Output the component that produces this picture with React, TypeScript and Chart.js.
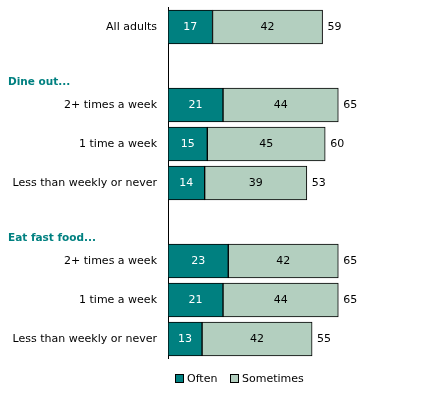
import React, { useEffect, useRef } from "react";
import { Chart, registerables } from "chart.js";

Chart.register(...registerables);

const categories = [
  "All adults",
  "",
  "2+ times a week",
  "1 time a week",
  "Less than weekly or never",
  "",
  "2+ times a week",
  "1 time a week",
  "Less than weekly or never",
];
const groupHeaders = ["", "Dine out...", "", "", "", "Eat fast food...", "", "", ""];
const often = [17, null, 21, 15, 14, null, 23, 21, 13];
const sometimes = [42, null, 44, 45, 39, null, 42, 44, 42];
const totals = [59, null, 65, 60, 53, null, 65, 65, 55];
const seriesNames = ["Often", "Sometimes"];

const TEAL = "#008080";
const SAGE = "#B3CFBF";
const FONT = "'DejaVu Sans', Verdana, sans-serif";

const labelsPlugin = {
  id: "valueLabels",
  afterDatasetsDraw(chart: any) {
    const ctx = chart.ctx;
    ctx.save();
    ctx.font = `11px ${FONT}`;
    ctx.textBaseline = "middle";
    chart.data.datasets.forEach((ds: any, di: number) => {
      const meta = chart.getDatasetMeta(di);
      meta.data.forEach((el: any, i: number) => {
        const v = ds.data[i];
        if (v == null) return;
        ctx.fillStyle = di === 0 ? "#ffffff" : "#000000";
        ctx.textAlign = "center";
        ctx.fillText(String(v), (el.x + el.base) / 2, el.y + 0.5);
        if (di === chart.data.datasets.length - 1 && totals[i] != null) {
          ctx.fillStyle = "#000000";
          ctx.textAlign = "left";
          ctx.fillText(String(totals[i]), el.x + 5, el.y + 0.5);
        }
      });
    });
    ctx.restore();
  },
};

const headersPlugin = {
  id: "groupHeaders",
  afterDraw(chart: any) {
    const ctx = chart.ctx;
    const y = chart.scales.y;
    ctx.save();
    ctx.font = `bold 10.5px ${FONT}`;
    ctx.fillStyle = TEAL;
    ctx.textAlign = "left";
    ctx.textBaseline = "middle";
    groupHeaders.forEach((h, i) => {
      if (!h) return;
      const py = y.getPixelForValue(i) + (y.height / categories.length) * 0.41;
      ctx.fillText(h, 8, py);
    });
    ctx.restore();
  },
};

const legendPlugin = {
  id: "customLegend",
  afterDraw(chart: any) {
    const ctx = chart.ctx;
    const area = chart.chartArea;
    ctx.save();
    ctx.font = `11px ${FONT}`;
    ctx.textBaseline = "middle";
    ctx.textAlign = "left";
    let x = Math.round(area.left + 7);
    const cy = Math.round(area.bottom + 20);
    chart.data.datasets.forEach((ds: any) => {
      ctx.fillStyle = ds.backgroundColor;
      ctx.fillRect(x + 0.5, cy - 4.5, 8, 8);
      ctx.strokeStyle = "#000";
      ctx.lineWidth = 1;
      ctx.strokeRect(x + 0.5, cy - 4.5, 8, 8);
      ctx.fillStyle = "#000";
      ctx.fillText(ds.label, x + 12, cy);
      x += Math.round(12 + ctx.measureText(ds.label).width + 13);
    });
    ctx.restore();
  },
};

export default function App() {
  const ref = useRef<HTMLCanvasElement | null>(null);
  useEffect(() => {
    if (!ref.current) return;
    const chart = new Chart(ref.current, {
      type: "bar",
      data: {
        labels: categories,
        datasets: [
          {
            label: seriesNames[0],
            data: often,
            backgroundColor: TEAL,
            borderColor: "#000",
            borderWidth: 1,
            borderSkipped: false,
          },
          {
            label: seriesNames[1],
            data: sometimes,
            backgroundColor: SAGE,
            borderColor: "#000",
            borderWidth: 1,
            borderSkipped: false,
          },
        ] as any,
      },
      options: {
        indexAxis: "y",
        animation: false,
        responsive: true,
        maintainAspectRatio: false,
        datasets: { bar: { barThickness: 34 } } as any,
        layout: { padding: { top: 7.5, right: 6, bottom: 38.5, left: 0 } },
        plugins: {
          legend: { display: false },
          tooltip: { enabled: false },
        },
        scales: {
          x: { display: false, stacked: true, min: 0, max: 100 },
          y: {
            stacked: true,
            grid: { display: false, drawTicks: false },
            border: { display: true, color: "#000", width: 1 },
            ticks: {
              color: "#000",
              padding: 11,
              font: { family: FONT, size: 11 },
            },
            afterFit: (scale: any) => {
              scale.width = 168;
              scale.paddingTop = 0;
              scale.paddingBottom = 0;
            },
          },
        },
      } as any,
      plugins: [labelsPlugin, headersPlugin, legendPlugin],
    });
    return () => chart.destroy();
  }, []);
  return (
    <div style={{ position: "absolute", left: 0, top: 0, width: 436, height: 397, background: "#fff" }}>
      <canvas ref={ref} />
    </div>
  );
}
